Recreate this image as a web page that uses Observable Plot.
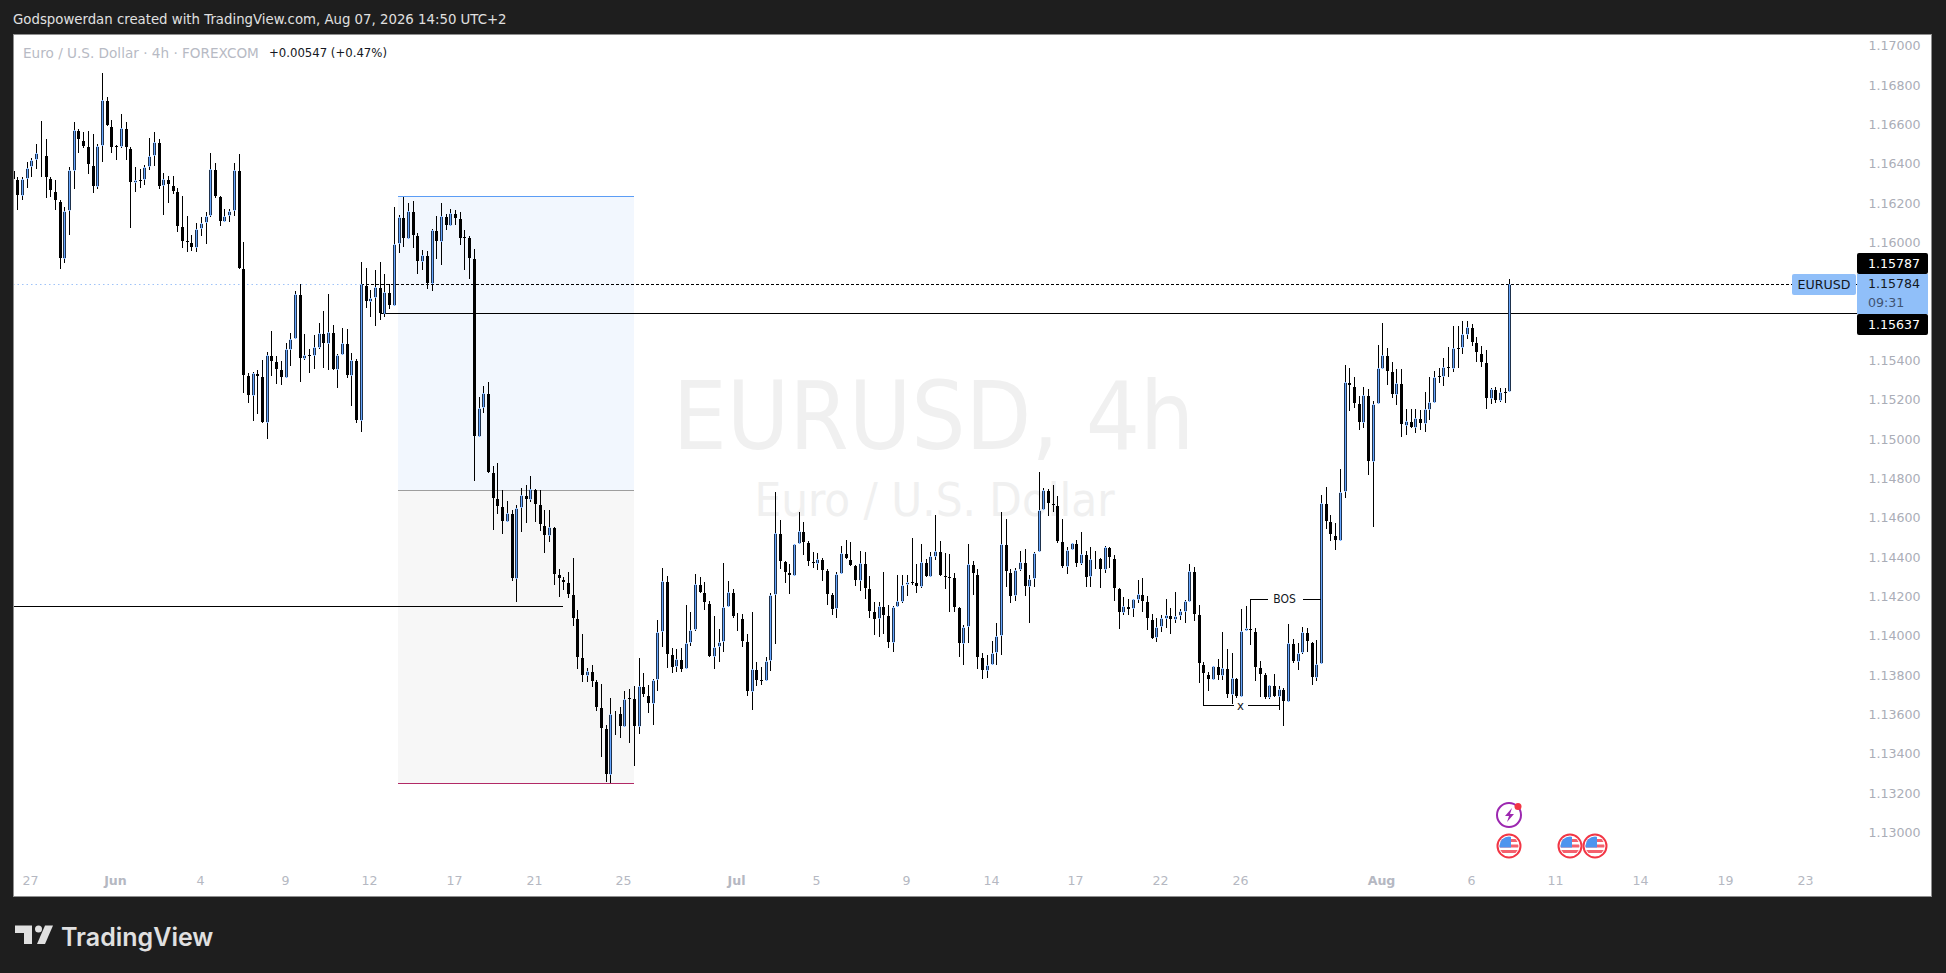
<!DOCTYPE html>
<html>
<head>
<meta charset="utf-8">
<script src="https://cdn.jsdelivr.net/npm/d3@7"></script>
<script src="https://cdn.jsdelivr.net/npm/@observablehq/plot@0.6"></script>
<style>
  html,body{margin:0;padding:0;background:#1e1e1e;width:1946px;height:973px;overflow:hidden}
  body,div{font-family:"DejaVu Sans",sans-serif}
  .abs{position:absolute;white-space:nowrap}
  #panel{position:absolute;left:13px;top:34px;width:1919px;height:863px;background:#fff}
  #panel svg{display:block;background:transparent}
  #edge{position:absolute;left:13px;top:34px;width:1917px;height:861px;border:1px solid #8f8f8f;pointer-events:none}
  .tag{position:absolute;left:1857px;width:60px;padding-left:11px;font-size:12.6px;border-radius:2px}
</style>
</head>
<body>
<div class="abs" style="left:13px;top:12px;font-size:13.3px;color:#e0e0e0">Godspowerdan created with TradingView.com, Aug 07, 2026 14:50 UTC+2</div>
<div id="panel"></div>
<div id="edge"></div>
<div class="abs" style="left:23px;top:45px;font-size:13.6px;color:#b7bac4">Euro / U.S. Dollar · 4h · FOREXCOM</div>
<div class="abs" style="left:269px;top:45px;font-size:13px;color:#131722;font-family:'DejaVu Sans Condensed','DejaVu Sans',sans-serif">+0.00547 (+0.47%)</div>
<div class="abs" style="left:1792px;top:274px;width:64px;height:21px;line-height:21px;text-align:center;font-size:12.6px;color:#131722;background:#90bff9;border-radius:2px">EURUSD</div>
<div class="tag" style="top:253px;height:21px;line-height:21px;background:#000;color:#fff">1.15787</div>
<div class="tag" style="top:274px;height:40px;background:#90bff9;color:#131722;border-radius:0"><div style="line-height:20px">1.15784</div><div style="line-height:17px;color:#3f5372">09:31</div></div>
<div class="tag" style="top:314px;height:21px;line-height:21px;background:#000;color:#fff">1.15637</div>
<svg class="abs" width="1946" height="973" style="left:0;top:0;pointer-events:none">
  <defs>
    <clipPath id="fc"><circle r="9.5"/></clipPath>
    <g id="flag">
      <circle r="11.5" fill="#fff" stroke="#f23645" stroke-width="2"/>
      <g clip-path="url(#fc)">
        <rect x="-10" y="-7" width="20" height="3" fill="#f4616e"/>
        <rect x="-10" y="-1.5" width="20" height="3" fill="#f4616e"/>
        <rect x="-10" y="4" width="20" height="3" fill="#f4616e"/>
        <rect x="-10" y="-10" width="12" height="11.5" fill="#4d94ee"/>
      </g>
    </g>
  </defs>
  <use href="#flag" x="1509" y="846"/><use href="#flag" x="1570" y="846"/><use href="#flag" x="1595" y="846"/>
  <circle cx="1509" cy="815" r="12" fill="#fff" stroke="#9c27b0" stroke-width="2"/>
  <path d="M1512 808l-7 8h4l-2 6 7-8h-4z" fill="#9c27b0"/>
  <circle cx="1518" cy="806.5" r="3.5" fill="#f23645"/>
  <path d="M15 925.5H32V944H24V933H15Z" fill="#e0e0e0"/>
  <circle cx="38.5" cy="929" r="3.5" fill="#e0e0e0"/>
  <path d="M45 925.5H53L45 944H37Z" fill="#e0e0e0"/>
  <text x="61" y="945.5" font-family="Inter,Lato,sans-serif" font-weight="600" font-size="25" fill="#e0e0e0">TradingView</text>
</svg>
<script>
const highs = [
1.16366,1.16329,1.16329,1.16405,1.16425,1.16498,1.16615,1.16524,1.16332,1.16314,
1.16214,1.16176,1.16380,1.16610,1.16574,1.16558,1.16563,1.16547,1.16497,1.16859,
1.16735,1.16619,1.16491,1.16649,1.16610,1.16483,1.16380,1.16369,1.16390,1.16527,
1.16558,1.16522,1.16349,1.16334,1.16334,1.16276,1.16234,1.16132,1.16036,1.16095,
1.16129,1.16151,1.16451,1.16400,1.16234,1.16166,1.16166,1.16400,1.16446,1.15998,
1.15332,1.15339,1.15349,1.15400,1.15439,1.15548,1.15419,1.15393,1.15485,1.15536,
1.15749,1.15786,1.15532,1.15456,1.15527,1.15588,1.15648,1.15736,1.15578,1.15429,
1.15563,1.15558,1.15436,1.15403,1.15898,1.15866,1.15756,1.15858,1.15898,1.15837,
1.15785,1.16176,1.16137,1.16227,1.16197,1.16208,1.16044,1.15959,1.15954,1.16064,
1.16132,1.16197,1.16142,1.16166,1.16163,1.16151,1.16061,1.16030,1.15964,1.15212,
1.15268,1.15288,1.14861,1.14877,1.14739,1.14683,1.14638,1.14663,1.14748,1.14765,
1.14810,1.14743,1.14739,1.14638,1.14638,1.14549,1.14338,1.14295,1.14322,1.14394,
1.14129,1.14007,1.13834,1.13848,1.13772,1.13751,1.13543,1.13680,1.13616,1.13636,
1.13717,1.13726,1.13743,1.13885,1.13809,1.13748,1.13777,1.14077,1.14341,1.14302,
1.13934,1.13931,1.13934,1.14155,1.14121,1.14312,1.14295,1.14271,1.14173,1.14099,
1.14033,1.14366,1.14277,1.14234,1.14112,1.14107,1.14005,1.14119,1.13865,1.13841,
1.13889,1.14216,1.14727,1.14587,1.14378,1.14361,1.14465,1.14627,1.14577,1.14482,
1.14422,1.14417,1.14392,1.14336,1.14214,1.14321,1.14455,1.14485,1.14475,1.14358,
1.14429,1.14426,1.14300,1.14170,1.14170,1.14322,1.14155,1.14150,1.14307,1.14307,
1.14307,1.14494,1.14363,1.14465,1.14390,1.14422,1.14610,1.14480,1.14417,1.14414,
1.14317,1.14144,1.14053,1.14465,1.14377,1.14338,1.13911,1.13900,1.13970,1.14061,
1.14627,1.14590,1.14336,1.14341,1.14429,1.14438,1.14305,1.14422,1.14829,1.14748,
1.14743,1.14765,1.14709,1.14590,1.14448,1.14468,1.14483,1.14526,1.14429,1.14448,
1.14429,1.14392,1.14455,1.14451,1.14409,1.14241,1.14194,1.14183,1.14183,1.14282,
1.14290,1.14200,1.14107,1.14087,1.14102,1.14183,1.14138,1.14219,1.14133,1.14180,
1.14361,1.14349,1.14155,1.13863,1.13816,1.13843,1.13878,1.14016,1.13931,1.13909,
1.13782,1.14134,1.14150,1.14183,1.14036,1.13868,1.13807,1.13748,1.13802,1.13743,
1.13731,1.14058,1.13980,1.13960,1.14041,1.14036,1.13965,1.13975,1.14714,1.14753,
1.14610,1.14570,1.14844,1.15375,1.15358,1.15312,1.15217,1.15263,1.15251,1.15193,
1.15476,1.15587,1.15459,1.15388,1.15354,1.15354,1.15151,1.15151,1.15151,1.15146,
1.15237,1.15314,1.15344,1.15358,1.15410,1.15465,1.15573,1.15573,1.15598,1.15598,
1.15581,1.15515,1.15471,1.15451,1.15258,1.15261,1.15256,1.15258,1.15812];
const bodyTops = [
1.16366,1.16319,1.16319,1.16378,1.16415,1.16451,1.16451,1.16441,1.16324,1.16258,
1.16207,1.16156,1.16364,1.16568,1.16568,1.16517,1.16486,1.16390,1.16488,1.16720,
1.16720,1.16591,1.16486,1.16578,1.16578,1.16478,1.16314,1.16314,1.16380,1.16436,
1.16507,1.16507,1.16319,1.16319,1.16288,1.16258,1.16080,1.16003,1.16002,1.16068,
1.16098,1.16131,1.16369,1.16369,1.16232,1.16131,1.16159,1.16364,1.16364,1.15866,
1.15324,1.15332,1.15332,1.15317,1.15424,1.15424,1.15393,1.15353,1.15454,1.15505,
1.15734,1.15734,1.15424,1.15426,1.15464,1.15536,1.15536,1.15541,1.15541,1.15424,
1.15485,1.15485,1.15398,1.15398,1.15785,1.15781,1.15714,1.15770,1.15770,1.15744,
1.15744,1.15988,1.16125,1.16125,1.16156,1.16156,1.16036,1.15932,1.15932,1.16059,
1.16059,1.16130,1.16130,1.16146,1.16146,1.16120,1.16024,1.16024,1.15919,1.15154,
1.15231,1.15231,1.14829,1.14697,1.14656,1.14621,1.14621,1.14646,1.14712,1.14712,
1.14743,1.14743,1.14666,1.14563,1.14549,1.14549,1.14310,1.14289,1.14272,1.14209,
1.14087,1.13889,1.13817,1.13817,1.13767,1.13634,1.13528,1.13599,1.13604,1.13604,
1.13675,1.13682,1.13680,1.13741,1.13741,1.13699,1.13772,1.14016,1.14275,1.14275,
1.13904,1.13878,1.13878,1.13960,1.14029,1.14260,1.14260,1.14219,1.14163,1.13939,
1.13965,1.14143,1.14219,1.14219,1.14095,1.14087,1.13970,1.13828,1.13828,1.13773,
1.13868,1.14204,1.14519,1.14519,1.14377,1.14321,1.14463,1.14529,1.14529,1.14473,
1.14377,1.14387,1.14387,1.14333,1.14211,1.14310,1.14417,1.14417,1.14387,1.14356,
1.14366,1.14366,1.14239,1.14122,1.14148,1.14148,1.14102,1.14143,1.14173,1.14258,
1.14270,1.14270,1.14270,1.14372,1.14372,1.14402,1.14427,1.14427,1.14305,1.14297,
1.14295,1.14143,1.14041,1.14361,1.14361,1.14310,1.13889,1.13848,1.13909,1.13995,
1.14463,1.14463,1.14321,1.14333,1.14372,1.14372,1.14285,1.14420,1.14636,1.14737,
1.14739,1.14668,1.14663,1.14478,1.14433,1.14468,1.14468,1.14412,1.14414,1.14387,
1.14392,1.14392,1.14448,1.14448,1.14392,1.14239,1.14148,1.14148,1.14183,1.14209,
1.14209,1.14173,1.14082,1.14041,1.14087,1.14102,1.14102,1.14097,1.14124,1.14175,
1.14326,1.14326,1.14107,1.13855,1.13804,1.13843,1.13843,1.13833,1.13833,1.13782,
1.13782,1.14021,1.14036,1.14036,1.14021,1.13838,1.13802,1.13746,1.13746,1.13726,
1.13726,1.13960,1.13960,1.13909,1.14016,1.14016,1.13965,1.13853,1.14671,1.14671,
1.14580,1.14512,1.14727,1.15287,1.15287,1.15270,1.15180,1.15221,1.15221,1.15175,
1.15358,1.15424,1.15424,1.15343,1.15282,1.15282,1.15088,1.15088,1.15104,1.15104,
1.15149,1.15185,1.15312,1.15317,1.15363,1.15365,1.15459,1.15461,1.15531,1.15566,
1.15566,1.15490,1.15434,1.15388,1.15251,1.15251,1.15236,1.15237,1.15785];
const bodyBottoms = [
1.16315,1.16236,1.16236,1.16319,1.16380,1.16415,1.16441,1.16324,1.16258,1.16207,
1.15915,1.15915,1.16156,1.16363,1.16517,1.16485,1.16390,1.16281,1.16281,1.16486,
1.16591,1.16476,1.16481,1.16481,1.16476,1.16298,1.16298,1.16310,1.16314,1.16380,
1.16436,1.16280,1.16283,1.16288,1.16254,1.16078,1.16002,1.15998,1.15971,1.15971,
1.16068,1.16098,1.16131,1.16231,1.16103,1.16103,1.16131,1.16159,1.15864,1.15321,
1.15219,1.15219,1.15315,1.15082,1.15082,1.15392,1.15351,1.15310,1.15310,1.15453,
1.15505,1.15407,1.15407,1.15420,1.15422,1.15463,1.15483,1.15483,1.15351,1.15351,
1.15424,1.15320,1.15320,1.15092,1.15092,1.15697,1.15697,1.15714,1.15636,1.15636,
1.15676,1.15676,1.15988,1.16017,1.16017,1.16032,1.15900,1.15900,1.15786,1.15786,
1.15998,1.15998,1.16083,1.16083,1.16119,1.16017,1.16020,1.15915,1.15010,1.15010,
1.15154,1.14827,1.14695,1.14654,1.14578,1.14578,1.14289,1.14289,1.14646,1.14690,
1.14690,1.14665,1.14563,1.14507,1.14507,1.14309,1.14289,1.14268,1.14207,1.14085,
1.13887,1.13795,1.13795,1.13765,1.13633,1.13526,1.13292,1.13292,1.13597,1.13536,
1.13536,1.13678,1.13536,1.13536,1.13699,1.13650,1.13650,1.13772,1.14016,1.13902,
1.13836,1.13838,1.13826,1.13828,1.13960,1.14029,1.14217,1.14163,1.13892,1.13892,
1.13939,1.13965,1.14143,1.14095,1.14085,1.13968,1.13714,1.13714,1.13770,1.13770,
1.13767,1.13868,1.14204,1.14375,1.14319,1.14304,1.14304,1.14463,1.14472,1.14375,
1.14365,1.14365,1.14329,1.14207,1.14131,1.14133,1.14310,1.14387,1.14355,1.14278,
1.14278,1.14238,1.14121,1.14080,1.14082,1.14100,1.13963,1.13963,1.14143,1.14170,
1.14258,1.14265,1.14248,1.14248,1.14299,1.14299,1.14400,1.14304,1.14294,1.14294,
1.14141,1.13958,1.13958,1.14041,1.14310,1.13887,1.13817,1.13817,1.13848,1.13909,
1.13995,1.14321,1.14197,1.14199,1.14333,1.14244,1.14244,1.14285,1.14422,1.14636,
1.14666,1.14665,1.14477,1.14348,1.14349,1.14433,1.14363,1.14365,1.14294,1.14295,
1.14385,1.14334,1.14334,1.14392,1.14238,1.14116,1.14116,1.14129,1.14133,1.14182,
1.14172,1.14082,1.13983,1.13985,1.14041,1.14085,1.14080,1.14080,1.14097,1.14121,
1.14172,1.14105,1.13853,1.13802,1.13775,1.13775,1.13795,1.13795,1.13699,1.13699,
1.13689,1.13689,1.14021,1.14021,1.13836,1.13800,1.13680,1.13683,1.13689,1.13689,
1.13660,1.13660,1.13867,1.13867,1.13909,1.13965,1.13785,1.13785,1.13853,1.14578,
1.14510,1.14482,1.14482,1.14727,1.15270,1.15176,1.15082,1.15082,1.14883,1.14883,
1.15175,1.15356,1.15341,1.15222,1.15224,1.15068,1.15066,1.15054,1.15056,1.15076,
1.15076,1.15148,1.15183,1.15314,1.15315,1.15361,1.15356,1.15458,1.15459,1.15529,
1.15488,1.15434,1.15387,1.15204,1.15204,1.15192,1.15193,1.15234,1.15236];
const lows = [
1.16315,1.16163,1.16214,1.16276,1.16332,1.16371,1.16332,1.16224,1.16231,1.16163,
1.15864,1.15895,1.16037,1.16271,1.16453,1.16476,1.16346,1.16251,1.16270,1.16407,
1.16591,1.16453,1.16417,1.16476,1.16419,1.16071,1.16256,1.16273,1.16290,1.16366,
1.16388,1.16271,1.16139,1.16200,1.16244,1.16053,1.15971,1.15951,1.15956,1.15951,
1.16032,1.15992,1.16129,1.16225,1.16083,1.16103,1.16103,1.16132,1.15864,1.15231,
1.15183,1.15092,1.15124,1.15082,1.15000,1.15320,1.15280,1.15275,1.15310,1.15371,
1.15505,1.15290,1.15400,1.15336,1.15354,1.15458,1.15361,1.15351,1.15351,1.15259,
1.15424,1.15310,1.15168,1.15078,1.15034,1.15666,1.15620,1.15573,1.15604,1.15620,
1.15661,1.15676,1.15946,1.15976,1.16014,1.15971,1.15837,1.15858,1.15763,1.15753,
1.15914,1.15883,1.16061,1.16083,1.16086,1.15985,1.15858,1.15812,1.14787,1.15010,
1.15131,1.14827,1.14536,1.14619,1.14517,1.14578,1.14278,1.14172,1.14526,1.14572,
1.14680,1.14577,1.14533,1.14421,1.14477,1.14258,1.14197,1.14231,1.14192,1.14050,
1.13831,1.13765,1.13765,1.13739,1.13617,1.13384,1.13256,1.13248,1.13494,1.13480,
1.13536,1.13455,1.13338,1.13500,1.13689,1.13607,1.13546,1.13719,1.13941,1.13836,
1.13811,1.13814,1.13816,1.13828,1.13948,1.14022,1.14217,1.14129,1.13892,1.13831,
1.13866,1.13917,1.14143,1.14090,1.14024,1.13939,1.13694,1.13622,1.13744,1.13748,
1.13767,1.13821,1.13958,1.14338,1.14268,1.14212,1.14304,1.14463,1.14410,1.14353,
1.14343,1.14333,1.14278,1.14156,1.14104,1.14090,1.14310,1.14387,1.14355,1.14253,
1.14227,1.14187,1.14089,1.14004,1.13994,1.14009,1.13938,1.13917,1.14143,1.14165,
1.14200,1.14258,1.14217,1.14243,1.14299,1.14299,1.14383,1.14304,1.14238,1.14121,
1.14121,1.13892,1.13851,1.13963,1.14207,1.13831,1.13780,1.13785,1.13848,1.13848,
1.13902,1.14248,1.14166,1.14177,1.14329,1.14200,1.14063,1.14244,1.14422,1.14636,
1.14609,1.14629,1.14472,1.14344,1.14312,1.14433,1.14349,1.14360,1.14248,1.14248,
1.14336,1.14243,1.14319,1.14344,1.14177,1.14031,1.14105,1.14105,1.14095,1.14163,
1.14121,1.14027,1.13980,1.13968,1.14019,1.14039,1.14007,1.14061,1.14078,1.14065,
1.14172,1.14075,1.13760,1.13719,1.13719,1.13773,1.13773,1.13773,1.13683,1.13651,
1.13683,1.13689,1.14021,1.13953,1.13770,1.13689,1.13677,1.13675,1.13689,1.13621,
1.13541,1.13660,1.13861,1.13826,1.13905,1.13917,1.13750,1.13770,1.13853,1.14543,
1.14482,1.14434,1.14482,1.14700,1.15141,1.15158,1.15044,1.15053,1.14817,1.14553,
1.15175,1.15356,1.15273,1.15209,1.15173,1.15010,1.15021,1.15053,1.15027,1.15044,
1.15036,1.15095,1.15183,1.15285,1.15270,1.15315,1.15341,1.15361,1.15431,1.15509,
1.15471,1.15392,1.15366,1.15153,1.15178,1.15183,1.15188,1.15183,1.15236];
const risingBars = [2,3,4,5,11,12,13,18,19,23,26,28,29,30,32,39,40,41,42,45,46,47,51,54,58,59,60,62,64,65,67,69,70,72,74,76,77,79,81,82,84,87,89,91,93,99,100,105,107,108,110,114,122,127,130,133,136,137,138,141,143,144,145,149,150,151,152,157,160,161,162,166,167,171,175,176,180,184,187,188,189,190,193,195,196,202,203,207,208,209,210,213,214,216,217,218,219,224,225,227,229,232,236,238,239,243,244,245,247,248,249,250,255,257,259,261,262,267,269,271,273,274,277,278,282,283,287,289,290,291,294,296,298,300,301,302,304,306,308,309,314,316,318];
const priceTicks = [1.17,1.168,1.166,1.164,1.162,1.16,1.154,1.152,1.15,1.148,1.146,1.144,1.142,1.14,1.138,1.136,1.134,1.132,1.13];
const dayTickBars = [4,40,58,76,94,111,130,171,190,208,226,244,261,310,328,346,364,381];
const dayTickLabels = ["27","4","9","12","17","21","25","5","9","14","17","22","26","6","11","14","19","23"];
const monthTickBars = [22,154,291];
const monthTickLabels = ["Jun","Jul","Aug"];
const zoneBars = [81.8,132];
const zonePrices = [1.16234,1.14738,1.13248];
const lastPrice = 1.15784, levelPrice = 1.15637, supportPrice = 1.14149;
const priceFrom = 74, levelFrom = 78, supportTo = 117, chartEnd = 392;
const bosBars = [263,278], bosPrice = 1.14184;
const xBars = [253,269], xPrice = 1.13646;

const FONT = '"DejaVu Sans",sans-serif';
const MARKFONT = '"DejaVu Sans Condensed","DejaVu Sans",sans-serif';
const bars = d3.range(highs.length);
const rising = new Set(risingBars);
const upBars = bars.filter(i => rising.has(i));
const hline = (p, a, b, stroke, extra = {}) => Plot.ruleY([p], {x1: a, x2: b, stroke, strokeWidth: 1, ...extra});

const chart = Plot.plot({
  width: 1919, height: 863,
  marginLeft: 0, marginRight: 72, marginTop: 0, marginBottom: 30,
  style: {background: "transparent", fontFamily: FONT},
  x: {domain: [0.085, 392.5], round: true, axis: null},
  y: {domain: [1.128225, 1.170574], round: true, axis: null},
  marks: [
    Plot.text(["EURUSD, 4h"], {frameAnchor: "top-left", dx: 920, dy: 384, textAnchor: "middle", lineAnchor: "middle", fontSize: 95, fill: "#f0f0f0", fontFamily: MARKFONT}),
    Plot.text(["Euro / U.S. Dollar"], {frameAnchor: "top-left", dx: 921, dy: 466, textAnchor: "middle", lineAnchor: "middle", fontSize: 47, fill: "#f0f0f0", fontFamily: MARKFONT}),
    Plot.rect([0], {x1: zoneBars[0], x2: zoneBars[1], y1: zonePrices[1], y2: zonePrices[0], fill: "#f2f7fe"}),
    Plot.rect([0], {x1: zoneBars[0], x2: zoneBars[1], y1: zonePrices[2], y2: zonePrices[1], fill: "#f7f7f7"}),
    hline(zonePrices[0], zoneBars[0], zoneBars[1], "#5c9df5"),
    hline(zonePrices[1], zoneBars[0], zoneBars[1], "#9e9e9e"),
    hline(zonePrices[2], zoneBars[0], zoneBars[1], "#b22a66"),
    hline(lastPrice, 0, priceFrom, "#9fc3f8", {strokeDasharray: "1.5 3"}),
    hline(lastPrice, priceFrom, chartEnd, "#000", {strokeDasharray: "3 2"}),
    hline(levelPrice, levelFrom, chartEnd, "#000"),
    hline(supportPrice, 0, supportTo, "#000"),
    Plot.ruleX(bars, {x: i => i, y1: i => lows[i], y2: i => highs[i], stroke: "#000", strokeWidth: 1}),
    Plot.ruleX(bars, {x: i => i, y1: i => bodyBottoms[i], y2: i => bodyTops[i], stroke: "#000", strokeWidth: 3, insetTop: -1, insetBottom: -1}),
    Plot.ruleX(upBars, {x: i => i, y1: i => bodyBottoms[i], y2: i => bodyTops[i], stroke: "#66a6ff", strokeWidth: 1.6}),
    hline(bosPrice, bosBars[0], bosBars[0] + 3.65, "#000"),
    hline(bosPrice, bosBars[0] + 11.1, bosBars[1], "#000"),
    Plot.text(["BOS"], {x: () => 270.2, y: () => bosPrice, fontSize: 12, fill: "#131722", fontFamily: MARKFONT}),
    Plot.ruleX([xBars[0]], {y1: xPrice, y2: lows[xBars[0]], stroke: "#000"}),
    hline(xPrice, xBars[0], xBars[0] + 6.4, "#000"),
    hline(xPrice, xBars[0] + 9.4, xBars[1], "#000"),
    Plot.text(["x"], {x: () => xBars[0] + 7.8, y: () => xPrice, fontSize: 13, fill: "#131722", fontFamily: MARKFONT}),
    Plot.axisY({anchor: "right", ticks: priceTicks, tickFormat: d3.format(".5f"), tickSize: 0, tickPadding: 8, label: null, fontSize: 12.6, color: "#aaadb7"}),
    Plot.axisX({anchor: "bottom", ticks: dayTickBars, tickFormat: (d) => dayTickLabels[dayTickBars.indexOf(d)], tickSize: 0, tickPadding: 9, dx: -1, label: null, fontSize: 12.6, color: "#b5b8c2"}),
    Plot.axisX({anchor: "bottom", ticks: monthTickBars, tickFormat: (d) => monthTickLabels[monthTickBars.indexOf(d)], tickSize: 0, tickPadding: 9, dx: -1, label: null, fontSize: 12.6, fontWeight: 700, color: "#b5b8c2"})
  ]
});
document.getElementById("panel").appendChild(chart);
</script>
</body>
</html>
